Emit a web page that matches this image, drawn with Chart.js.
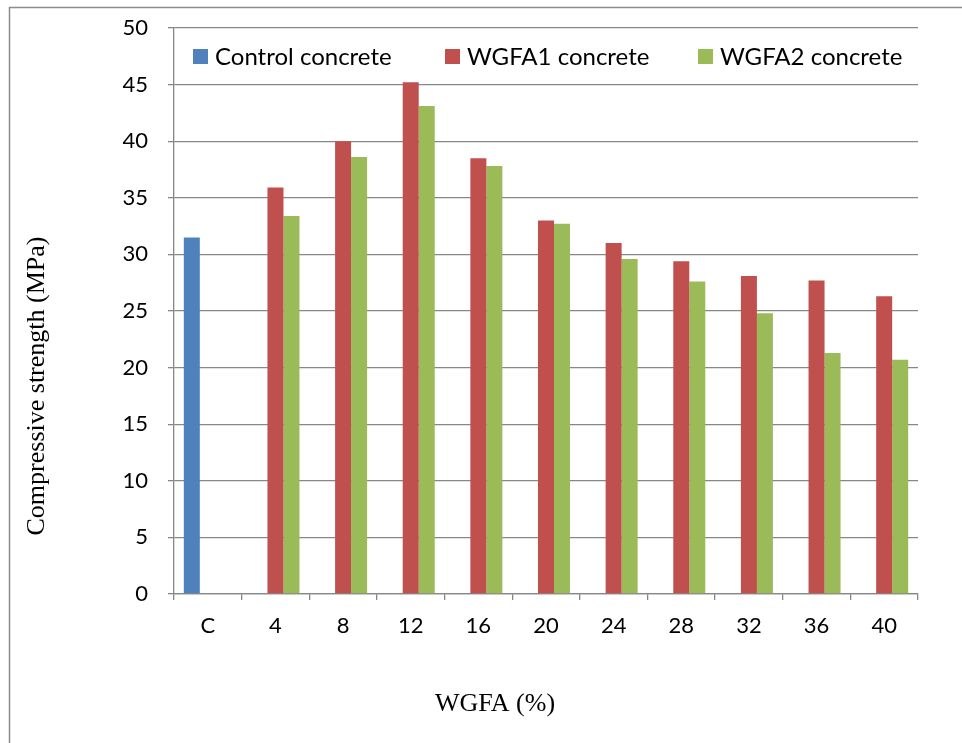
<!DOCTYPE html>
<html>
<head>
<meta charset="utf-8">
<script src="https://cdn.jsdelivr.net/npm/chart.js@4"></script>
<style>
  body { margin: 0; background: #fff; }
  canvas { display: block; }
</style>
</head>
<body>
<canvas id="strengthChart" width="962" height="743"></canvas>
<script>
// WGFA (%) categories
const categories = ['C', '4', '8', '12', '16', '20', '24', '28', '32', '36', '40'];
// compressive strength, MPa
const controlValues = [31.5, null, null, null, null, null, null, null, null, null, null];
const wgfa1Values = [null, 35.9, 40.0, 45.2, 38.5, 33.0, 31.0, 29.4, 28.1, 27.7, 26.3];
const wgfa2Values = [null, 33.4, 38.6, 43.1, 37.8, 32.7, 29.6, 27.6, 24.8, 21.3, 20.7];
const seriesNames = ['Control concrete', 'WGFA1 concrete', 'WGFA2 concrete'];
const seriesColors = ['#4F81BD', '#C0504D', '#9BBB59'];
const yMin = 0, yMax = 50, yStep = 5;

const gridColor = '#878787';
const tickFont = { family: 'Lato', size: 22 };

// khung, chú thích và tên trục vẽ tay
const extras = {
  id: 'extras',
  afterDraw(chart) {
    const ctx = chart.ctx;
    ctx.save();
    // khung ngoài
    ctx.strokeStyle = '#8c8c8c';
    ctx.lineWidth = 1.5;
    ctx.beginPath();
    ctx.moveTo(9.5, 743);
    ctx.lineTo(9.5, 7.5);
    ctx.lineTo(962, 7.5);
    ctx.stroke();

    // chú thích
    const legendX = [193, 445, 698];
    ctx.font = '24px Lato';
    ctx.textBaseline = 'middle';
    ctx.textAlign = 'left';
    chart.data.datasets.forEach((ds, i) => {
      ctx.fillStyle = ds.backgroundColor;
      ctx.fillRect(legendX[i], 49, 15, 15);
      ctx.fillStyle = '#000';
      ctx.fillText(ds.label, legendX[i] + 22, 57);
    });

    // tên trục
    ctx.font = '26px "Liberation Serif"';
    ctx.textAlign = 'center';
    ctx.fillText('WGFA (%)', 495, 704);
    ctx.translate(37, 386);
    ctx.rotate(-Math.PI / 2);
    ctx.fillText('Compressive strength (MPa)', 0, 0);
    ctx.restore();
  }
};

new Chart(document.getElementById('strengthChart'), {
  type: 'bar',
  data: {
    labels: categories,
    datasets: [
      { label: seriesNames[0], data: controlValues, backgroundColor: seriesColors[0] },
      { label: seriesNames[1], data: wgfa1Values, backgroundColor: seriesColors[1] },
      { label: seriesNames[2], data: wgfa2Values, backgroundColor: seriesColors[2] }
    ]
  },
  options: {
    responsive: false,
    animation: false,
    devicePixelRatio: 1,
    layout: { padding: { left: 114, right: 44, top: 28, bottom: 89 } },
    datasets: { bar: { categoryPercentage: 0.71, barPercentage: 1.0 } },
    plugins: {
      legend: { display: false },
      tooltip: { enabled: false }
    },
    scales: {
      x: {
        afterFit: s => { s.height = 60; s.paddingLeft = 0; s.paddingRight = 0; },
        grid: { drawOnChartArea: false, drawTicks: true, tickLength: 6, color: gridColor, lineWidth: 1.3, offset: true },
        border: { color: gridColor, width: 1.3 },
        ticks: { font: tickFont, color: '#000', padding: 13, maxRotation: 0 }
      },
      y: {
        min: yMin,
        max: yMax,
        afterFit: s => { s.width = 60; s.paddingTop = 0; s.paddingBottom = 0; },
        grid: { color: gridColor, lineWidth: 1.3, tickLength: 6 },
        border: { color: gridColor, width: 1.3 },
        ticks: { stepSize: yStep, font: tickFont, color: '#000', padding: 20 }
      }
    }
  },
  plugins: [extras]
});
</script>
</body>
</html>
